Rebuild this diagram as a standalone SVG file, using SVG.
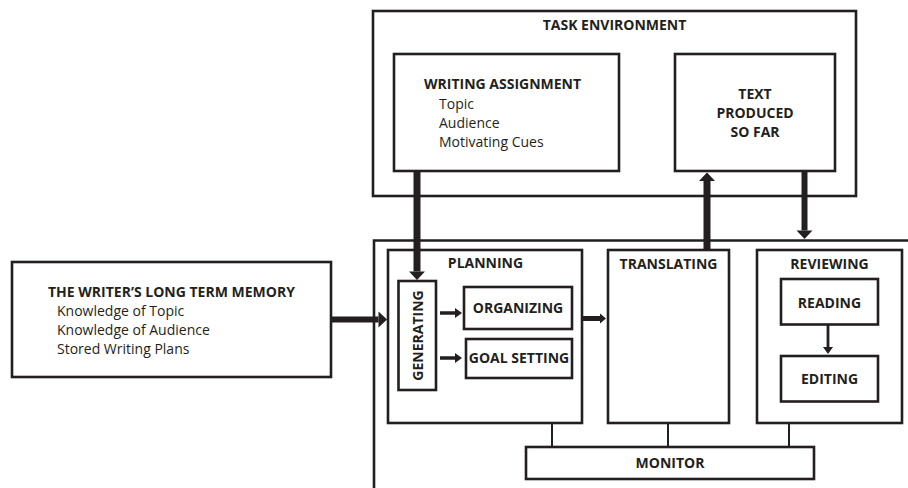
<svg xmlns="http://www.w3.org/2000/svg" width="908" height="488" viewBox="0 0 908 488">
<defs>
<style>
.box{fill:#fff;stroke:#231f20;stroke-width:2.6}
.ln{fill:none;stroke:#231f20}
.b{font-family:"Open Sans","Liberation Sans",sans-serif;font-weight:bold;font-size:14px;fill:#231f20}
.r{font-family:"Open Sans","Liberation Sans",sans-serif;font-size:14px;fill:#231f20}
.c{text-anchor:middle}
</style>
<marker id="hBig" markerUnits="userSpaceOnUse" markerWidth="10" markerHeight="16" refX="0" refY="8" orient="auto" overflow="visible">
<path d="M0,0 L8.5,8 L0,16 Z" fill="#231f20"/>
</marker>
<marker id="hMed" markerUnits="userSpaceOnUse" markerWidth="8" markerHeight="10" refX="0" refY="5" orient="auto" overflow="visible">
<path d="M0,0 L6,5 L0,10 Z" fill="#231f20"/>
</marker>
<marker id="hSm" markerUnits="userSpaceOnUse" markerWidth="8" markerHeight="10" refX="0" refY="5" orient="auto" overflow="visible">
<path d="M0,0 L7,5 L0,10 Z" fill="#231f20"/>
</marker>
</defs>
<rect width="908" height="488" fill="#fff"/>

<g id="task-environment">
<rect class="box" x="373" y="11" width="483" height="185"/>
<text class="b c" x="614.5" y="30">TASK ENVIRONMENT</text>
</g>

<g id="writing-assignment">
<rect class="box" x="394" y="54" width="225" height="117"/>
<text class="b" x="424" y="89">WRITING ASSIGNMENT</text>
<text class="r" x="439" y="108.5">Topic</text>
<text class="r" x="439" y="128">Audience</text>
<text class="r" x="439" y="147">Motivating Cues</text>
</g>

<g id="text-produced">
<rect class="box" x="675" y="54" width="160" height="117"/>
<text class="b c" x="755" y="99">TEXT</text>
<text class="b c" x="755" y="118">PRODUCED</text>
<text class="b c" x="755" y="137">SO FAR</text>
</g>

<g id="writing-process">
<path class="ln" stroke-width="2.6" d="M374,489 V240.5 H909"/>
</g>

<g id="long-term-memory">
<rect class="box" x="12" y="262" width="319" height="115"/>
<text class="b" x="48" y="297">THE WRITER’S LONG TERM MEMORY</text>
<text class="r" x="57" y="316">Knowledge of Topic</text>
<text class="r" x="57" y="335">Knowledge of Audience</text>
<text class="r" x="57" y="354">Stored Writing Plans</text>
</g>

<g id="planning">
<rect class="box" x="388" y="250" width="194" height="173"/>
<text class="b c" x="485.5" y="268">PLANNING</text>
</g>

<g id="generating">
<rect class="box" x="398.5" y="281" width="37.5" height="109"/>
<text class="b c" transform="translate(423,335.5) rotate(-90)">GENERATING</text>
</g>

<g id="organizing">
<rect class="box" x="464" y="287" width="108" height="42"/>
<text class="b c" x="518" y="313">ORGANIZING</text>
</g>

<g id="goal-setting">
<rect class="box" x="466" y="339" width="106" height="39"/>
<text class="b c" x="519" y="363">GOAL SETTING</text>
</g>

<g id="translating">
<rect class="box" x="608" y="250" width="121" height="173"/>
<text class="b c" x="668.5" y="269">TRANSLATING</text>
</g>

<g id="reviewing">
<rect class="box" x="757" y="250" width="145" height="173"/>
<text class="b c" x="829.5" y="269">REVIEWING</text>
</g>

<g id="reading">
<rect class="box" x="781" y="279" width="97" height="45.5"/>
<text class="b c" x="829.5" y="308">READING</text>
</g>

<g id="editing">
<rect class="box" x="781" y="356" width="97" height="45.5"/>
<text class="b c" x="829.5" y="384">EDITING</text>
</g>

<g id="monitor">
<rect class="box" x="526" y="447" width="288" height="32"/>
<text class="b c" x="670" y="468">MONITOR</text>
</g>

<g id="connectors" class="ln">
<line x1="331" y1="319.5" x2="378.5" y2="319.5" stroke-width="6" marker-end="url(#hBig)"/>
<line x1="417" y1="172" x2="417" y2="271.5" stroke-width="7" marker-end="url(#hBig)"/>
<line x1="707" y1="249" x2="707" y2="181" stroke-width="7" marker-end="url(#hBig)"/>
<line x1="804.5" y1="172" x2="804.5" y2="230.5" stroke-width="6" marker-end="url(#hBig)"/>
<line x1="583" y1="318.5" x2="600" y2="318.5" stroke-width="5" marker-end="url(#hMed)"/>
<line x1="440" y1="313" x2="455" y2="313" stroke-width="3.5" marker-end="url(#hSm)"/>
<line x1="440" y1="358" x2="455" y2="358" stroke-width="3.5" marker-end="url(#hSm)"/>
<line x1="828" y1="325" x2="828" y2="347" stroke-width="2.8" marker-end="url(#hSm)"/>
<line x1="552" y1="424" x2="552" y2="446" stroke-width="2"/>
<line x1="668" y1="424" x2="668" y2="446" stroke-width="2"/>
<line x1="789" y1="424" x2="789" y2="446" stroke-width="2"/>
</g>
</svg>
